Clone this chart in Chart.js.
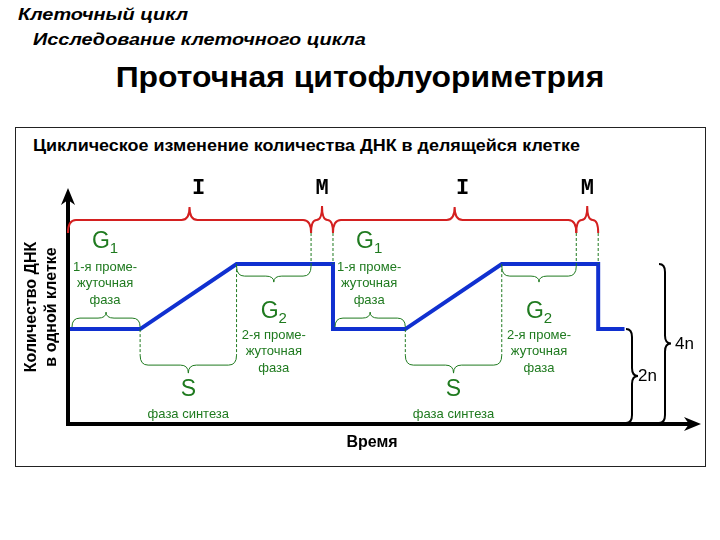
<!DOCTYPE html>
<html>
<head>
<meta charset="utf-8">
<script src="https://cdn.jsdelivr.net/npm/chart.js@4/dist/chart.umd.min.js"></script>
<style>
  html, body { margin: 0; padding: 0; background: #fff; }
  #page { position: relative; width: 720px; height: 540px; overflow: hidden; font-family: "Liberation Sans", Arial, sans-serif; }
  .h { position: absolute; white-space: nowrap; color: #000; transform-origin: left center; }
  #h1 { left: 18px; top: 5px; font: italic bold 17px "Liberation Sans", Arial, sans-serif; transform: scaleX(1.17); }
  #h2 { left: 33px; top: 30px; font: italic bold 17px "Liberation Sans", Arial, sans-serif; transform: scaleX(1.17); }
  #h3 { left: 0; width: 720px; top: 61px; text-align: center; font: bold 29px "Liberation Sans", Arial, sans-serif; transform: scaleX(1.1); transform-origin: center center; }
  #frame { position: absolute; left: 15px; top: 127px; width: 689px; height: 338px; border: 1px solid #222; }
  #sub { left: 33px; top: 137px; font: bold 16px "Liberation Sans", Arial, sans-serif; transform: scaleX(1.12); }
  #wrap { position: absolute; left: 0; top: 0; width: 720px; height: 540px; }
</style>
</head>
<body>
<div id="page">
  <div class="h" id="h1">Клеточный цикл</div>
  <div class="h" id="h2">Исследование клеточного цикла</div>
  <div class="h" id="h3">Проточная цитофлуориметрия</div>
  <div id="frame"></div>
  <div class="h" id="sub">Циклическое изменение количества ДНК в делящейся клетке</div>
  <div id="wrap"><canvas id="chart" width="720" height="540"></canvas></div>
</div>
<script>
// time points (hours-ish) and DNA content of the blue line
const times = [0, 6.4, 15.2, 24, 24, 30.6, 39.4, 48.2, 48.2, 50.6];
const dna = [2, 2, 4, 4, 2, 2, 4, 4, 2, 2];

// phase boundaries for each cycle
const g1Start = [0, 24];
const sStart = [6.4, 30.6];
const g2Start = [15.2, 39.4];
const mStart = [22, 46.2];
const mEnd = [24, 48.2];

// levels on the right
const levels = [2, 4];
const levelLabels = ["2n", "4n"];

const RED = "#d42020";
const GREEN = "#1f7a1f";
const BLUE = "#1030d0";

// curly brace, horizontal. dir -1 = tip up, +1 = tip down
function hBrace(ctx, x1, x2, y, dir, endH, tipH) {
  const xm = (x1 + x2) / 2;
  const r = Math.min(8, (x2 - x1) / 4);
  ctx.beginPath();
  ctx.moveTo(x1, y - dir * endH);
  ctx.quadraticCurveTo(x1, y, x1 + r, y);
  ctx.lineTo(xm - r, y);
  ctx.quadraticCurveTo(xm, y, xm, y + dir * tipH);
  ctx.quadraticCurveTo(xm, y, xm + r, y);
  ctx.lineTo(x2 - r, y);
  ctx.quadraticCurveTo(x2, y, x2, y - dir * endH);
  ctx.stroke();
}

// vertical brace, tip to the right
function vBrace(ctx, y1, y2, x, endW, tipW) {
  const ym = (y1 + y2) / 2;
  const r = Math.min(8, (y2 - y1) / 4);
  ctx.beginPath();
  ctx.moveTo(x - endW, y1);
  ctx.quadraticCurveTo(x, y1, x, y1 + r);
  ctx.lineTo(x, ym - r);
  ctx.quadraticCurveTo(x, ym, x + tipW, ym);
  ctx.quadraticCurveTo(x, ym, x, ym + r);
  ctx.lineTo(x, y2 - r);
  ctx.quadraticCurveTo(x, y2, x - endW, y2);
  ctx.stroke();
}

function gLabel(ctx, letter, sub, x, y) {
  ctx.font = "23px 'Liberation Sans', Arial, sans-serif";
  const w1 = ctx.measureText(letter).width;
  ctx.font = "15px 'Liberation Sans', Arial, sans-serif";
  const w2 = sub ? ctx.measureText(sub).width : 0;
  const x0 = x - (w1 + w2) / 2;
  ctx.textAlign = "left";
  ctx.textBaseline = "middle";
  ctx.font = "23px 'Liberation Sans', Arial, sans-serif";
  ctx.fillText(letter, x0, y);
  if (sub) {
    ctx.font = "15px 'Liberation Sans', Arial, sans-serif";
    ctx.fillText(sub, x0 + w1, y + 7);
  }
}

function lines(ctx, arr, x, y, step) {
  ctx.font = "13px 'Liberation Sans', Arial, sans-serif";
  ctx.textAlign = "center";
  ctx.textBaseline = "middle";
  arr.forEach((t, i) => ctx.fillText(t, x, y + i * step));
}

const diagram = {
  id: "diagram",
  afterDatasetsDraw(chart) {
    const ctx = chart.ctx;
    const xs = chart.scales.x, ys = chart.scales.y;
    const X = (v) => xs.getPixelForValue(v);
    const lo = ys.getPixelForValue(2), hi = ys.getPixelForValue(4);
    const base = ys.getPixelForValue(ys.min);
    const left = xs.getPixelForValue(xs.min);
    ctx.save();

    // axes with arrows
    ctx.strokeStyle = "#000";
    ctx.fillStyle = "#000";
    ctx.lineWidth = 4;
    ctx.beginPath();
    ctx.moveTo(left, chart.chartArea.top + 6);
    ctx.lineTo(left, base);
    ctx.lineTo(694, base);
    ctx.stroke();
    ctx.beginPath();
    ctx.moveTo(left, chart.chartArea.top - 2);
    ctx.lineTo(left - 7, chart.chartArea.top + 15);
    ctx.lineTo(left, chart.chartArea.top + 10);
    ctx.lineTo(left + 7, chart.chartArea.top + 15);
    ctx.closePath();
    ctx.fill();
    ctx.beginPath();
    ctx.moveTo(701, base);
    ctx.lineTo(684, base - 7);
    ctx.lineTo(689, base);
    ctx.lineTo(684, base + 7);
    ctx.closePath();
    ctx.fill();

    for (let i = 0; i < g1Start.length; i++) {
      const a = X(g1Start[i]), s = X(sStart[i]), g = X(g2Start[i]), m = X(mStart[i]), e = X(mEnd[i]);
      const braceY = 220;

      // red braces I and M
      ctx.strokeStyle = RED;
      ctx.lineWidth = 2;
      hBrace(ctx, a - (i === 0 ? 2 : 0), m, braceY, -1, 13, 13);
      hBrace(ctx, m, e, braceY, -1, 13, 14);
      ctx.fillStyle = "#000";
      ctx.font = "bold 22px 'Liberation Mono', 'Courier New', monospace";
      ctx.textAlign = "center";
      ctx.textBaseline = "middle";
      ctx.fillText("I", (a + m) / 2 + 8, 188);
      ctx.fillText("M", (m + e) / 2, 188);

      // green dashed guides
      ctx.strokeStyle = GREEN;
      ctx.lineWidth = 1;
      ctx.setLineDash([3, 2]);
      ctx.beginPath();
      ctx.moveTo(m, braceY + 13); ctx.lineTo(m, hi + 2);
      ctx.moveTo(e, braceY + 13); ctx.lineTo(e, hi);
      ctx.moveTo(s, lo); ctx.lineTo(s, lo + 26);
      ctx.moveTo(g, hi); ctx.lineTo(g, lo + 26);
      ctx.stroke();
      ctx.setLineDash([]);

      // green braces G1, G2, S
      hBrace(ctx, a + 2, s, lo - 11, -1, 9, 6);
      hBrace(ctx, g, m, hi + 12, 1, 10, 6);
      hBrace(ctx, s, g, lo + 36, 1, 10, 8);

      ctx.fillStyle = GREEN;
      gLabel(ctx, "G", "1", (a + s) / 2, hi - 22);
      lines(ctx, ["1-я проме-", "жуточная", "фаза"], (a + s) / 2, hi + 3, 16.5);
      gLabel(ctx, "G", "2", (g + m) / 2, lo - 17);
      lines(ctx, ["2-я проме-", "жуточная", "фаза"], (g + m) / 2, lo + 6, 16.5);
      gLabel(ctx, "S", "", (s + g) / 2, lo + 61);
      lines(ctx, ["фаза синтеза"], (s + g) / 2, lo + 85, 16);
    }

    // 2n / 4n braces
    ctx.strokeStyle = "#000";
    ctx.fillStyle = "#000";
    ctx.lineWidth = 2;
    const bx = [632, 665];
    const gap = [6, 10];
    levels.forEach((lv, i) => {
      const top = ys.getPixelForValue(lv);
      vBrace(ctx, top, base - 1, bx[i], 6, 6);
      ctx.font = "17px 'Liberation Sans', Arial, sans-serif";
      ctx.textAlign = "left";
      ctx.textBaseline = "middle";
      ctx.fillText(levelLabels[i], bx[i] + gap[i], (top + base) / 2);
    });
    ctx.restore();
  }
};

new Chart(document.getElementById("chart"), {
  type: "line",
  data: {
    datasets: [{
      data: times.map((t, i) => ({ x: t, y: dna[i] })),
      borderColor: BLUE,
      borderWidth: 4,
      pointRadius: 0,
      tension: 0,
      clip: false
    }]
  },
  options: {
    responsive: false,
    animation: false,
    events: [],
    layout: { padding: { left: 22, right: 44, top: 190, bottom: 87 } },
    plugins: { legend: { display: false }, tooltip: { enabled: false } },
    scales: {
      x: {
        type: "linear",
        min: -0.18,
        max: 55.3,
        grid: { display: false, drawTicks: false },
        border: { display: false },
        ticks: { display: false },
        title: {
          display: true,
          text: "Время",
          color: "#000",
          font: { family: "'Liberation Sans', Arial, sans-serif", size: 16, weight: "bold", lineHeight: 1.25 },
          padding: { top: 9, bottom: 0 }
        }
      },
      y: {
        min: -0.92,
        max: 6.28,
        grid: { display: false, drawTicks: false },
        border: { display: false },
        ticks: { display: false },
        title: {
          display: true,
          text: ["Количество ДНК", "в одной клетке"],
          color: "#000",
          font: { family: "'Liberation Sans', Arial, sans-serif", size: 16, weight: "bold", lineHeight: 1.25 },
          padding: { top: 0, bottom: 6 }
        }
      }
    }
  },
  plugins: [diagram]
});
</script>
</body>
</html>
